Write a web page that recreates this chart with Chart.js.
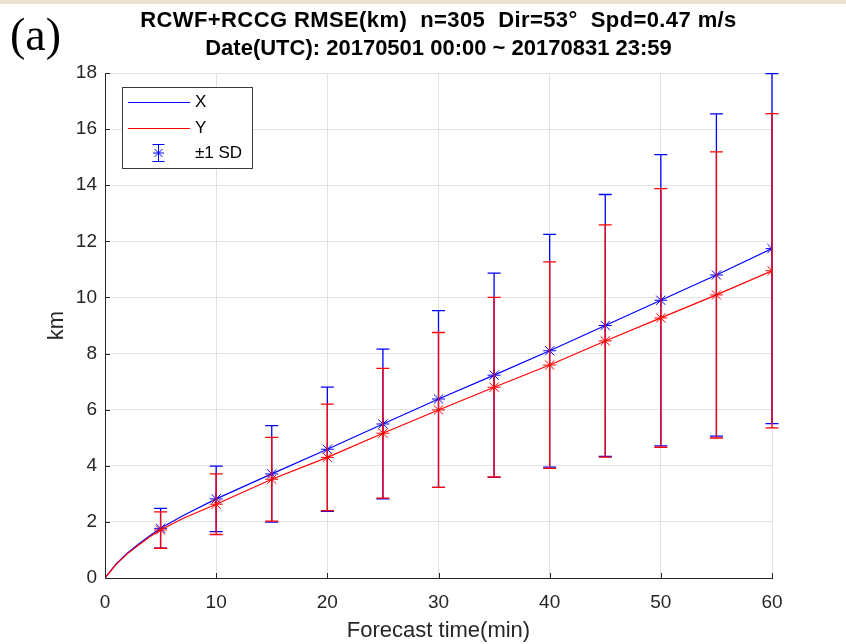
<!DOCTYPE html>
<html>
<head>
<meta charset="utf-8">
<script src="https://cdn.jsdelivr.net/npm/chart.js@4/dist/chart.umd.min.js"></script>
<style>
  html, body { margin: 0; padding: 0; background: #fff; }
  #wrap { width: 846px; height: 644px; position: relative; }
</style>
</head>
<body>
<div id="wrap"><canvas id="chart" width="846" height="644"></canvas></div>
<script>
// Data
const times = [0, 1, 2, 3, 4, 5, 7, 10, 15, 20, 25, 30, 35, 40, 45, 50, 55, 60];
const xRmse = [0, 0.5, 0.88, 1.2, 1.5, 1.77, 2.22, 2.82, 3.71, 4.59, 5.49, 6.38, 7.23, 8.1, 9.0, 9.9, 10.8, 11.74];
const yRmse = [0, 0.49, 0.86, 1.17, 1.46, 1.71, 2.12, 2.63, 3.52, 4.3, 5.16, 5.99, 6.8, 7.59, 8.45, 9.27, 10.09, 10.95];
const sdTimes = [5, 10, 15, 20, 25, 30, 35, 40, 45, 50, 55, 60];
const xSD = [0.71, 1.17, 1.72, 2.21, 2.67, 3.15, 3.64, 4.15, 4.67, 5.19, 5.74, 6.24];
const ySD = [0.65, 1.08, 1.49, 1.9, 2.31, 2.76, 3.2, 3.68, 4.14, 4.61, 5.1, 5.6];
const xTicks = [0, 10, 20, 30, 40, 50, 60];
const yTicks = [0, 2, 4, 6, 8, 10, 12, 14, 16, 18];

const titleLines = [
  "RCWF+RCCG RMSE(km)  n=305  Dir=53\u00b0  Spd=0.47 m/s",
  "Date(UTC): 20170501 00:00 ~ 20170831 23:59"
];

const BLUE = "#0000ff";
const RED = "#ff0000";
const AXIS = "#262626";
const SANS = "'Liberation Sans', Arial, Helvetica, sans-serif";

const toPoints = (vals) => times.map((t, i) => ({ x: t, y: vals[i] }));
const markerRadius = (c) => {
  const t = times[c.dataIndex];
  return t > 0 && t % 5 === 0 ? 6.5 : 0;
};

// Error bars, drawn just before their own line
const errorBars = {
  id: "errorBars",
  beforeDatasetDraw(chart, args) {
    const ds = chart.data.datasets[args.index];
    const sx = chart.scales.x, sy = chart.scales.y;
    const ctx = chart.ctx;
    ctx.save();
    ctx.strokeStyle = ds.borderColor;
    ctx.lineWidth = 1.3;
    sdTimes.forEach((t, i) => {
      const mean = ds.means[times.indexOf(t)];
      const px = sx.getPixelForValue(t);
      const top = sy.getPixelForValue(mean + ds.sd[i]);
      const bot = sy.getPixelForValue(mean - ds.sd[i]);
      ctx.beginPath();
      ctx.moveTo(px, top); ctx.lineTo(px, bot);
      ctx.moveTo(px - 6.5, top); ctx.lineTo(px + 6.5, top);
      ctx.moveTo(px - 6.5, bot); ctx.lineTo(px + 6.5, bot);
      ctx.stroke();
    });
    ctx.restore();
  }
};

// Title, panel label, inward ticks and legend
const decorations = {
  id: "decorations",
  beforeDraw(chart) {
    const ctx = chart.ctx;
    ctx.save();
    ctx.fillStyle = "#ebe3d0";
    ctx.fillRect(0, 0, chart.width, 4);
    ctx.restore();
  },
  afterDraw(chart) {
    const ctx = chart.ctx;
    const area = chart.chartArea;
    const sx = chart.scales.x, sy = chart.scales.y;
    ctx.save();

    // title
    ctx.fillStyle = "#000";
    ctx.textAlign = "center";
    ctx.textBaseline = "middle";
    ctx.font = "bold 22px " + SANS;
    const cx = (area.left + area.right) / 2;
    ctx.letterSpacing = "0.4px";
    ctx.fillText(titleLines[0], cx, 21);
    ctx.letterSpacing = "0px";
    ctx.fillText(titleLines[1], cx, 49);

    // (a)
    ctx.textAlign = "left";
    ctx.font = "46px 'Liberation Serif', 'Times New Roman', serif";
    ctx.fillText("(a)", 10, 38);

    // inward tick marks
    ctx.strokeStyle = AXIS;
    ctx.lineWidth = 1;
    ctx.beginPath();
    yTicks.forEach((v) => {
      const py = Math.round(sy.getPixelForValue(v)) + 0.5;
      ctx.moveTo(area.left, py); ctx.lineTo(area.left + 5, py);
    });
    xTicks.forEach((v) => {
      const px = Math.round(sx.getPixelForValue(v)) + 0.5;
      ctx.moveTo(px, area.bottom); ctx.lineTo(px, area.bottom - 5);
    });
    ctx.stroke();

    // legend box
    const lx = 122.5, ly = 87.5, lw = 130, lh = 81;
    ctx.fillStyle = "#fff";
    ctx.fillRect(lx, ly, lw, lh);
    ctx.strokeStyle = "#3a3a3a";
    ctx.strokeRect(lx, ly, lw, lh);

    ctx.lineWidth = 1;
    ctx.strokeStyle = BLUE;
    ctx.beginPath(); ctx.moveTo(128, 102.5); ctx.lineTo(190, 102.5); ctx.stroke();
    ctx.strokeStyle = RED;
    ctx.beginPath(); ctx.moveTo(128, 128.5); ctx.lineTo(190, 128.5); ctx.stroke();

    ctx.strokeStyle = BLUE;
    ctx.beginPath();
    ctx.moveTo(158.5, 144); ctx.lineTo(158.5, 162);
    ctx.moveTo(152.5, 144.5); ctx.lineTo(164.5, 144.5);
    ctx.moveTo(152.5, 161.5); ctx.lineTo(164.5, 161.5);
    ctx.stroke();
    Chart.helpers.drawPoint(ctx, { pointStyle: "star", radius: 5.5, rotation: 0, borderWidth: 1 }, 158.5, 153);

    ctx.fillStyle = "#000";
    ctx.textAlign = "left";
    ctx.textBaseline = "middle";
    ctx.font = "17px " + SANS;
    ctx.fillText("X", 195, 102);
    ctx.fillText("Y", 195, 128);
    ctx.fillText("\u00b11 SD", 195, 153);
    ctx.restore();
  }
};

const ctx = document.getElementById("chart").getContext("2d");
new Chart(ctx, {
  type: "line",
  data: {
    datasets: [
      {
        label: "X",
        data: toPoints(xRmse),
        means: xRmse,
        sd: xSD,
        borderColor: BLUE,
        backgroundColor: BLUE,
        borderWidth: 1.2,
        pointStyle: "star",
        pointRadius: markerRadius,
        pointBorderColor: BLUE,
        pointBorderWidth: 1,
        tension: 0,
        order: 2
      },
      {
        label: "Y",
        data: toPoints(yRmse),
        means: yRmse,
        sd: ySD,
        borderColor: RED,
        backgroundColor: RED,
        borderWidth: 1.2,
        pointStyle: "star",
        pointRadius: markerRadius,
        pointBorderColor: RED,
        pointBorderWidth: 1,
        tension: 0,
        order: 1
      }
    ]
  },
  options: {
    responsive: false,
    animation: false,
    devicePixelRatio: 1,
    events: [],
    layout: { padding: { top: 73, right: 74, left: 0, bottom: 0 } },
    plugins: {
      legend: { display: false },
      tooltip: { enabled: false }
    },
    scales: {
      x: {
        type: "linear",
        min: 0,
        max: 60,
        afterFit: (s) => { s.height = 66; },
        afterBuildTicks: (s) => { s.ticks = xTicks.map((v) => ({ value: v })); },
        grid: { color: "#e2e2e2", drawTicks: false },
        border: { color: AXIS, width: 1 },
        ticks: { color: AXIS, padding: 13, font: { size: 19, family: SANS } },
        title: {
          display: true,
          text: "Forecast time(min)",
          color: AXIS,
          font: { size: 22, family: SANS },
          padding: { top: 0, bottom: 0 }
        }
      },
      y: {
        type: "linear",
        min: 0,
        max: 18,
        afterFit: (s) => { s.width = 105; },
        afterBuildTicks: (s) => { s.ticks = yTicks.map((v) => ({ value: v })); },
        grid: { color: "#e2e2e2", drawTicks: false },
        border: { color: AXIS, width: 1 },
        ticks: { color: AXIS, padding: 8, font: { size: 19, family: SANS } },
        title: {
          display: true,
          text: "km",
          color: AXIS,
          font: { size: 22, family: SANS },
          padding: { top: 44, bottom: 0 }
        }
      }
    }
  },
  plugins: [errorBars, decorations]
});
</script>
</body>
</html>
